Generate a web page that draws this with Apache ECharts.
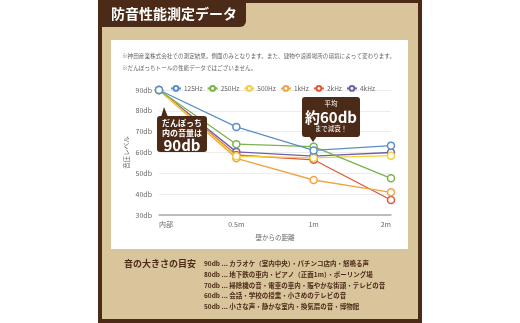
<!DOCTYPE html>
<html><head><meta charset="utf-8">
<script src="https://cdn.jsdelivr.net/npm/echarts@6/dist/echarts.min.js"></script>
<style>html,body{margin:0;padding:0;background:#fff;}#c{width:520px;height:323px;}</style>
</head><body><div id="c"></div>
<script>
const categories = ['内部', '0.5m', '1m', '2m'];
const seriesNames = ['125Hz', '250Hz', '500Hz', '1kHz', '2kHz', '4kHz'];
const v125 = [90, 72.3, 61, 63.3];
const v250 = [90, 64, 62.8, 47.6];
const v500 = [90, 58.2, 57.4, 58.5];
const v1k  = [90, 57.2, 46.8, 40.9];
const v2k  = [90, 58.8, 56.5, 37.2];
const v4k  = [90, 60.3, 58.3, 60];
const yTicks = [30, 40, 50, 60, 70, 80, 90];
const colors = ['#5b8fc8', '#7cb24e', '#f2d03a', '#f0a444', '#e0573b', '#6b62a8'];
const guideLines = [
  '90db ... カラオケ（室内中央）・パチンコ店内・怒鳴る声',
  '80db ... 地下鉄の車内・ピアノ（正面1m）・ボーリング場',
  '70db ... 掃除機の音・電車の車内・賑やかな街頭・テレビの音',
  '60db ... 会話・学校の授業・小さめのテレビの音',
  '50db ... 小さな声・静かな室内・換気扇の音・博物館'
];

const FONT = '"Noto Sans CJK JP", "Noto Sans", sans-serif';
const BROWN = '#4b2a18';
const BEIGE = '#d9c59b';
const allVals = [v125, v250, v500, v1k, v2k, v4k];

const chart = echarts.init(document.getElementById('c'), null, {renderer: 'canvas'});

const graphics = [
  {type: 'rect', z: -10, shape: {x: 98, y: 0, width: 324, height: 323}, style: {fill: BROWN}},
  {type: 'rect', z: -9, shape: {x: 102, y: 3, width: 316, height: 316}, style: {fill: BEIGE}},
  {type: 'rect', z: -8, shape: {x: 98, y: 0, width: 148, height: 27, r: [0, 0, 6, 0]}, style: {fill: BROWN}},
  {type: 'text', z: 5, style: {text: '防音性能測定データ', x: 111, y: 14, fill: '#fff', fontSize: 14, fontWeight: 'bold', fontFamily: FONT, verticalAlign: 'middle'}},
  {type: 'rect', z: -7, shape: {x: 111, y: 40, width: 297, height: 209}, style: {fill: '#fff'}},
  {type: 'text', z: 5, style: {text: '※神田産業株式会社での測定結果。側面のみとなります。また、建物や設置場所の環境によって変わります。', x: 122, y: 56, fill: '#666', fontSize: 5.6, fontFamily: FONT, verticalAlign: 'middle'}},
  {type: 'text', z: 5, style: {text: '※だんぼっちトールの性能データではございません。', x: 122, y: 68, fill: '#666', fontSize: 5.6, fontFamily: FONT, verticalAlign: 'middle'}},
  {type: 'text', z: 5, style: {text: '音の大きさの目安', x: 124, y: 264, fill: BROWN, fontSize: 9, fontWeight: 'bold', fontFamily: FONT, verticalAlign: 'middle'}},
  {type: 'rect', z: 20, shape: {x: 157, y: 116, width: 50, height: 36, r: 3}, style: {fill: BROWN}},
  {type: 'polygon', z: 20, shape: {points: [[161, 117], [164, 107], [168, 117]]}, style: {fill: BROWN}},
  {type: 'text', z: 21, style: {text: 'だんぼっち', x: 182, y: 123, fill: '#fff', fontSize: 8, fontWeight: 'bold', fontFamily: FONT, align: 'center', verticalAlign: 'middle'}},
  {type: 'text', z: 21, style: {text: '内の音量は', x: 182, y: 133, fill: '#fff', fontSize: 8, fontWeight: 'bold', fontFamily: FONT, align: 'center', verticalAlign: 'middle'}},
  {type: 'text', z: 21, style: {text: '90db', x: 182, y: 145, fill: '#fff', fontSize: 15, fontWeight: 'bold', fontFamily: FONT, align: 'center', verticalAlign: 'middle'}},
  {type: 'rect', z: 20, shape: {x: 302, y: 97, width: 58, height: 40, r: 3}, style: {fill: BROWN}},
  {type: 'polygon', z: 20, shape: {points: [[309, 136], [313, 142], [317, 136]]}, style: {fill: BROWN}},
  {type: 'text', z: 21, style: {text: '平均', x: 331, y: 104, fill: '#fff', fontSize: 6.5, fontFamily: FONT, align: 'center', verticalAlign: 'middle'}},
  {type: 'text', z: 21, style: {text: '約60db', x: 331, y: 117, fill: '#fff', fontSize: 15, fontWeight: 'bold', fontFamily: FONT, align: 'center', verticalAlign: 'middle'}},
  {type: 'text', z: 21, style: {text: 'まで減衰！', x: 331, y: 129, fill: '#fff', fontSize: 6.5, fontFamily: FONT, align: 'center', verticalAlign: 'middle'}}
];
guideLines.forEach((t, i) => {
  graphics.push({type: 'text', z: 5, style: {text: t, x: 204, y: 264 + i * 10.6, fill: BROWN, fontSize: 6.5, fontWeight: 'bold', fontFamily: FONT, verticalAlign: 'middle'}});
});

chart.setOption({
  animation: false,
  backgroundColor: '#fff',
  color: colors,
  textStyle: {fontFamily: FONT},
  graphic: graphics,
  legend: {
    top: 80, left: 165,
    itemWidth: 10, itemHeight: 6, itemGap: 4,
    textStyle: {fontSize: 6.5, color: '#666', fontFamily: FONT, padding: [0, 0, 0, -2]},
    data: seriesNames
  },
  grid: {left: 159, right: 520 - 391, top: 90, bottom: 323 - 215, containLabel: false},
  xAxis: {
    type: 'category', data: categories, boundaryGap: false,
    name: '壁からの距離', nameLocation: 'middle', nameGap: 19,
    nameTextStyle: {fontSize: 6.5, color: '#666', fontFamily: FONT},
    axisLine: {lineStyle: {color: '#aaa', width: 1.5}},
    axisTick: {show: false},
    axisLabel: {fontSize: 7, color: '#666', margin: 6, alignMinLabel: 'left', alignMaxLabel: 'right', fontFamily: FONT}
  },
  yAxis: {
    type: 'value', min: yTicks[0], max: yTicks[yTicks.length - 1], interval: 10,
    name: '音圧レベル', nameLocation: 'middle', nameGap: 29, nameRotate: 90,
    nameTextStyle: {fontSize: 6.5, color: '#666', fontFamily: FONT},
    axisLine: {show: false}, axisTick: {show: false},
    axisLabel: {fontSize: 7, color: '#666', margin: 7, formatter: v => v + 'db', fontFamily: FONT},
    splitLine: {lineStyle: {color: '#ececec', width: 1}}
  },
  series: seriesNames.map((n, i) => ({
    name: n, type: 'line', data: allVals[i],
    symbol: 'circle', symbolSize: 7,
    itemStyle: {color: '#fff', borderColor: colors[i], borderWidth: 1.5},
    lineStyle: {color: colors[i], width: 1.3},
    z: 10 - i
  }))
});
</script></body></html>
